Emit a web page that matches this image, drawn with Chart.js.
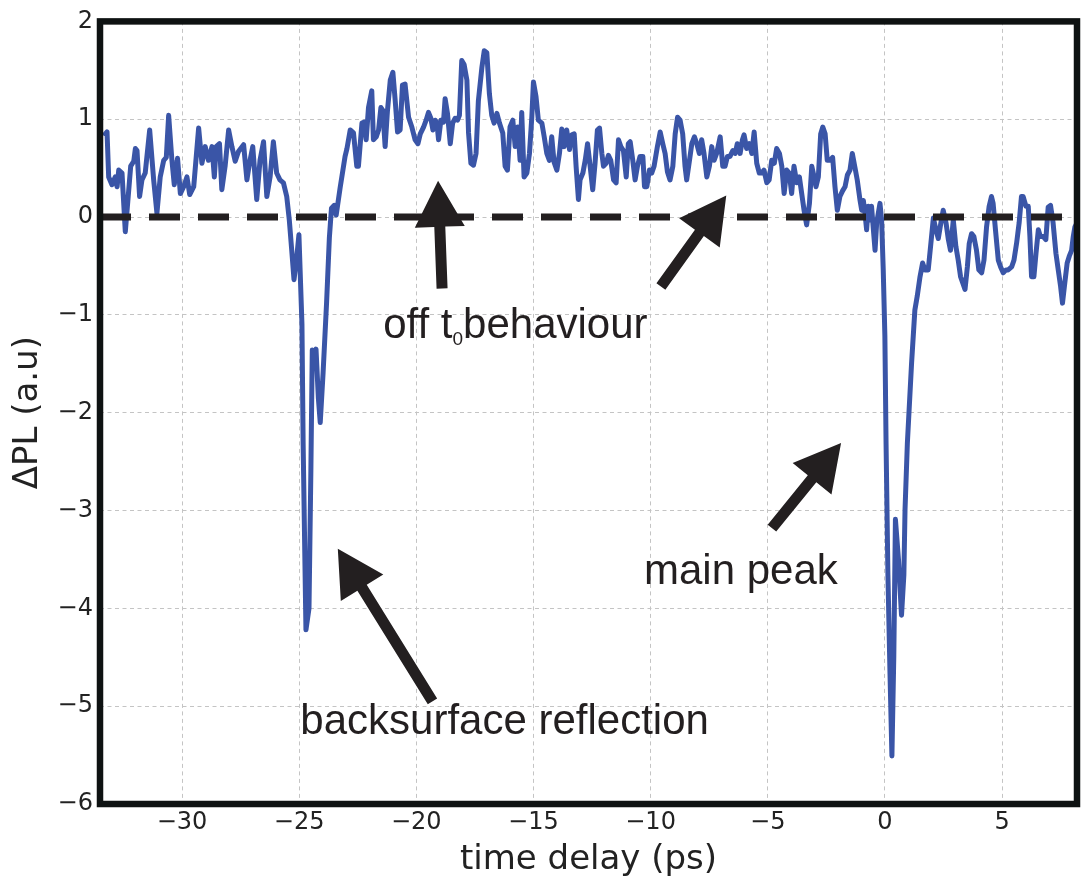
<!DOCTYPE html>
<html>
<head>
<meta charset="utf-8">
<script src="https://cdn.jsdelivr.net/npm/chart.js@4.4.1/dist/chart.umd.min.js"></script>
<style>
  html, body { margin: 0; padding: 0; background: #fff; }
  #wrap { width: 1081px; height: 881px; }
</style>
</head>
<body>
<div id="wrap"><canvas id="plChart" width="1081" height="881"></canvas></div>
<script>
// time delay (ps) and ΔPL (a.u)
const timeDelay = [
  -33.27, -33.20, -33.13, -32.99, -32.85, -32.77, -32.70, -32.56, -32.42, -32.19,
  -32.06, -31.99, -31.92, -31.81, -31.71, -31.57, -31.38, -31.21, -31.07, -30.93,
  -30.78, -30.67, -30.57, -30.43, -30.33, -30.19, -30.07, -29.93, -29.79, -29.67,
  -29.50, -29.29, -29.15, -29.01, -28.87, -28.72, -28.62, -28.54, -28.40, -28.30,
  -28.16, -28.01, -27.87, -27.73, -27.59, -27.37, -27.23, -27.12, -26.98, -26.81,
  -26.67, -26.52, -26.38, -26.24, -26.10, -25.96, -25.82, -25.67, -25.53, -25.42,
  -25.32, -25.22, -25.11, -25.01, -24.88, -24.83, -24.71, -24.58, -24.50, -24.44,
  -24.36, -24.28, -24.18, -24.10, -23.98, -23.83, -23.71, -23.62, -23.50, -23.42,
  -23.25, -23.04, -22.96, -22.82, -22.68, -22.54, -22.47, -22.32, -22.22, -22.14,
  -22.04, -21.90, -21.83, -21.71, -21.61, -21.51, -21.43, -21.33, -21.23, -21.11,
  -21.00, -20.90, -20.80, -20.69, -20.59, -20.48, -20.33, -20.19, -20.05, -19.93,
  -19.83, -19.69, -19.58, -19.48, -19.38, -19.29, -19.19, -19.12, -19.05, -18.95,
  -18.84, -18.77, -18.67, -18.55, -18.45, -18.34, -18.24, -18.16, -18.06, -17.96,
  -17.84, -17.77, -17.67, -17.56, -17.45, -17.35, -17.20, -17.10, -16.99, -16.88,
  -16.78, -16.68, -16.56, -16.45, -16.31, -16.21, -16.11, -16.00, -15.88, -15.78,
  -15.67, -15.57, -15.50, -15.40, -15.28, -15.17, -15.07, -15.00, -14.89, -14.79,
  -14.64, -14.54, -14.43, -14.32, -14.22, -14.12, -14.00, -13.89, -13.79, -13.69,
  -13.58, -13.46, -13.36, -13.26, -13.18, -13.08, -13.01, -12.89, -12.79, -12.69,
  -12.58, -12.47, -12.37, -12.27, -12.18, -12.08, -12.01, -11.90, -11.80, -11.70,
  -11.58, -11.47, -11.37, -11.27, -11.16, -11.04, -10.95, -10.87, -10.76, -10.66,
  -10.56, -10.45, -10.33, -10.26, -10.16, -10.05, -9.95, -9.85, -9.71, -9.59,
  -9.48, -9.38, -9.28, -9.17, -9.05, -8.95, -8.85, -8.74, -8.63, -8.53,
  -8.46, -8.34, -8.24, -8.13, -8.03, -7.92, -7.82, -7.72, -7.60, -7.49,
  -7.39, -7.29, -7.18, -7.03, -6.92, -6.82, -6.72, -6.61, -6.49, -6.39,
  -6.30, -6.18, -6.08, -6.01, -5.90, -5.78, -5.68, -5.58, -5.47, -5.36,
  -5.26, -5.16, -5.04, -4.94, -4.83, -4.72, -4.62, -4.50, -4.40, -4.30,
  -4.19, -4.08, -3.98, -3.88, -3.76, -3.65, -3.55, -3.45, -3.34, -3.22,
  -3.12, -3.02, -2.94, -2.84, -2.74, -2.65, -2.55, -2.46, -2.34, -2.23,
  -2.13, -2.03, -1.92, -1.80, -1.70, -1.60, -1.49, -1.39, -1.28, -1.18,
  -1.06, -0.99, -0.92, -0.85, -0.78, -0.71, -0.64, -0.57, -0.49, -0.42,
  -0.35, -0.28, -0.21, -0.14, -0.07, 0.00, 0.05, 0.13, 0.22, 0.30,
  0.38, 0.45, 0.58, 0.71, 0.81, 0.86, 0.96, 1.05, 1.14, 1.28,
  1.38, 1.50, 1.61, 1.71, 1.85, 1.95, 2.07, 2.18, 2.28, 2.39,
  2.49, 2.61, 2.71, 2.80, 2.92, 3.03, 3.13, 3.23, 3.32, 3.42,
  3.52, 3.60, 3.70, 3.80, 3.91, 4.01, 4.13, 4.23, 4.34, 4.45,
  4.55, 4.62, 4.72, 4.84, 4.94, 5.05, 5.17, 5.26, 5.41, 5.51,
  5.62, 5.73, 5.83, 5.90, 6.02, 6.12, 6.19, 6.26, 6.36, 6.45,
  6.55, 6.64, 6.76, 6.87, 6.97, 7.07, 7.18, 7.30, 7.40, 7.50,
  7.58, 7.68, 7.78, 7.87, 7.97, 8.04, 8.11, 8.20
];
const deltaPL = [
  0.85, 0.87, 0.41, 0.33, 0.41, 0.31, 0.48, 0.45, -0.15, 0.52,
  0.57, 0.70, 0.68, 0.21, 0.38, 0.45, 0.89, 0.38, 0.04, 0.41,
  0.58, 0.61, 1.04, 0.58, 0.33, 0.60, 0.24, 0.31, 0.41, 0.23,
  0.31, 0.91, 0.55, 0.72, 0.58, 0.72, 0.41, 0.72, 0.75, 0.28,
  0.52, 0.89, 0.72, 0.57, 0.67, 0.74, 0.38, 0.55, 0.72, 0.18,
  0.58, 0.77, 0.21, 0.41, 0.77, 0.45, 0.38, 0.35, 0.21, -0.03,
  -0.33, -0.64, -0.43, -0.18, -1.10, -2.31, -4.22, -4.00, -2.60, -1.36,
  -1.45, -1.35, -1.85, -2.10, -1.60, -0.88, -0.21, 0.09, 0.12, 0.02,
  0.30, 0.62, 0.70, 0.89, 0.86, 0.52, 0.52, 0.96, 0.97, 0.79,
  1.12, 1.29, 0.79, 0.82, 0.89, 1.12, 1.09, 0.72, 1.09, 1.40,
  1.48, 1.19, 0.87, 0.89, 1.35, 1.36, 1.02, 0.92, 0.79, 0.75,
  0.85, 0.92, 0.99, 1.07, 1.01, 0.89, 0.99, 0.96, 0.79, 0.99,
  0.97, 1.21, 1.06, 0.75, 0.96, 1.01, 0.99, 1.04, 1.60, 1.56,
  1.40, 0.86, 0.55, 0.53, 0.65, 1.19, 1.53, 1.70, 1.68, 1.26,
  1.04, 0.96, 1.06, 0.96, 0.86, 0.52, 0.48, 0.92, 0.99, 0.72,
  0.92, 0.58, 1.07, 0.41, 0.45, 0.65, 1.02, 1.38, 1.23, 0.99,
  0.96, 0.82, 0.65, 0.58, 0.82, 0.56, 0.48, 0.65, 0.90, 0.72,
  0.89, 0.69, 0.84, 0.85, 0.52, 0.18, 0.38, 0.45, 0.58, 0.75,
  0.52, 0.28, 0.55, 0.89, 0.91, 0.65, 0.52, 0.55, 0.63, 0.58,
  0.38, 0.35, 0.79, 0.72, 0.68, 0.41, 0.75, 0.77, 0.58, 0.38,
  0.52, 0.62, 0.62, 0.31, 0.31, 0.48, 0.45, 0.52, 0.72, 0.87,
  0.75, 0.65, 0.46, 0.38, 0.52, 0.85, 1.02, 0.99, 0.85, 0.52,
  0.38, 0.58, 0.75, 0.82, 0.75, 0.65, 0.79, 0.65, 0.41, 0.52,
  0.72, 0.58, 0.65, 0.82, 0.52, 0.52, 0.62, 0.62, 0.68, 0.65,
  0.75, 0.65, 0.79, 0.84, 0.70, 0.75, 0.65, 0.87, 0.55, 0.45,
  0.45, 0.48, 0.35, 0.38, 0.58, 0.55, 0.70, 0.65, 0.52, 0.24,
  0.48, 0.45, 0.24, 0.52, 0.35, 0.41, 0.24, 0.07, -0.08, 0.14,
  0.52, 0.41, 0.31, 0.41, 0.85, 0.92, 0.85, 0.58, 0.58, 0.61,
  0.31, 0.07, 0.21, 0.27, 0.31, 0.43, 0.48, 0.65, 0.51, 0.38,
  0.17, 0.07, 0.17, 0.04, -0.13, 0.11, -0.03, 0.11, -0.13, -0.34,
  -0.06, 0.04, 0.14, -0.03, -0.54, -1.22, -2.31, -3.66, -4.68, -5.51,
  -4.50, -3.09, -3.50, -4.07, -3.66, -2.99, -2.31, -1.90, -1.49, -0.95,
  -0.81, -0.61, -0.47, -0.54, -0.54, -0.30, -0.01, -0.13, -0.22, -0.06,
  0.07, -0.06, -0.23, -0.34, -0.03, -0.30, -0.44, -0.61, -0.67, -0.74,
  -0.51, -0.27, -0.17, -0.20, -0.34, -0.54, -0.57, -0.44, -0.10, 0.11,
  0.21, 0.14, -0.13, -0.44, -0.51, -0.57, -0.54, -0.54, -0.51, -0.44,
  -0.27, -0.06, 0.21, 0.21, 0.11, 0.11, -0.20, -0.61, -0.61, -0.37,
  -0.13, -0.20, -0.20, -0.23, 0.10, 0.12, -0.06, -0.37, -0.54, -0.71,
  -0.88, -0.67, -0.47, -0.40, -0.34, -0.20, -0.10, -0.06
];

// the dashed reference line at ΔPL = 0
const zeroLineX = [-33.5, 8.2];
const zeroLineY = [0, 0];

// tick labels
const xTickValues = [-30, -25, -20, -15, -10, -5, 0, 5];
const yTickValues = [-6, -5, -4, -3, -2, -1, 0, 1, 2];

const X_MIN = -33.5, X_MAX = 8.2, Y_MIN = -6, Y_MAX = 2;

// annotations, placed in data units
const notes = [
  { parts: [["off t", 42, 0], ["0", 19, 7], ["behaviour", 42, 0]], x: -21.41, y: -1.24 },
  { parts: [["main peak", 42, 0]], x: -10.28, y: -3.75 },
  { parts: [["backsurface reflection", 42, 0]], x: -24.95, y: -5.28 }
];
const arrows = [
  { from: [-18.90, -0.73], to: [-19.07, 0.37] },
  { from: [-9.56, -0.71], to: [-6.77, 0.22] },
  { from: [-4.82, -3.18], to: [-1.87, -2.31] },
  { from: [-19.31, -4.95], to: [-23.35, -3.39] }
];

const ink = "#231f20";

function toPoints(xs, ys) {
  return xs.map((x, i) => ({ x: x, y: ys[i] }));
}

function minusLabel(v) {
  return v < 0 ? "\u2212" + Math.abs(v) : String(v);
}

function drawArrow(ctx, x1, y1, x2, y2) {
  const dx = x2 - x1, dy = y2 - y1;
  const len = Math.hypot(dx, dy);
  const ux = dx / len, uy = dy / len;
  const nx = -uy, ny = ux;
  const headLen = 46, headHalf = 25, shaftHalf = 5.5;
  const bx = x2 - ux * headLen, by = y2 - uy * headLen;
  ctx.beginPath();
  ctx.moveTo(x1 + nx * shaftHalf, y1 + ny * shaftHalf);
  ctx.lineTo(bx + nx * shaftHalf, by + ny * shaftHalf);
  ctx.lineTo(bx + nx * headHalf, by + ny * headHalf);
  ctx.lineTo(x2, y2);
  ctx.lineTo(bx - nx * headHalf, by - ny * headHalf);
  ctx.lineTo(bx - nx * shaftHalf, by - ny * shaftHalf);
  ctx.lineTo(x1 - nx * shaftHalf, y1 - ny * shaftHalf);
  ctx.closePath();
  ctx.fill();
}

const framePlugin = {
  id: "frameAndNotes",
  afterDatasetsDraw(chart) {
    const { ctx, chartArea: a, scales } = chart;
    ctx.save();
    // arrows
    ctx.fillStyle = ink;
    arrows.forEach(ar => {
      drawArrow(ctx,
        scales.x.getPixelForValue(ar.from[0]), scales.y.getPixelForValue(ar.from[1]),
        scales.x.getPixelForValue(ar.to[0]), scales.y.getPixelForValue(ar.to[1]));
    });
    // text
    ctx.textBaseline = "alphabetic";
    ctx.textAlign = "left";
    notes.forEach(n => {
      let px = scales.x.getPixelForValue(n.x);
      const py = scales.y.getPixelForValue(n.y);
      n.parts.forEach(p => {
        ctx.font = p[1] + 'px "Liberation Sans", Arial, sans-serif';
        ctx.fillText(p[0], px, py + p[2]);
        px += ctx.measureText(p[0]).width;
      });
    });
    // thick box round the plot
    ctx.strokeStyle = "#0e1212";
    ctx.lineWidth = 6.5;
    ctx.strokeRect(a.left, a.top, a.right - a.left, a.bottom - a.top);
    ctx.restore();
  }
};

const tickFont = { family: "'DejaVu Sans', sans-serif", size: 24 };
const titleFont = { family: "'DejaVu Sans', sans-serif", size: 34 };

new Chart(document.getElementById("plChart").getContext("2d"), {
  type: "line",
  data: {
    datasets: [
      {
        label: "zero",
        data: toPoints(zeroLineX, zeroLineY),
        borderColor: ink,
        borderWidth: 7,
        borderDash: [31, 18],
        pointRadius: 0,
        order: 0
      },
      {
        label: "ΔPL",
        data: toPoints(timeDelay, deltaPL),
        borderColor: "#3a55a7",
        borderWidth: 5,
        borderJoinStyle: "round",
        borderCapStyle: "round",
        pointRadius: 0,
        tension: 0,
        order: 1
      }
    ]
  },
  options: {
    responsive: false,
    animation: false,
    devicePixelRatio: 1,
    layout: { padding: { left: 0, right: 4, top: 14, bottom: 0 } },
    plugins: {
      legend: { display: false },
      tooltip: { enabled: false }
    },
    scales: {
      x: {
        type: "linear",
        min: X_MIN,
        max: X_MAX,
        afterBuildTicks: s => { s.ticks = xTickValues.map(v => ({ value: v })); },
        afterFit: s => { s.height = 77; },
        ticks: { font: tickFont, color: "#222", padding: 4, maxRotation: 0, callback: v => minusLabel(v) },
        grid: { color: "#c4c4c4", lineWidth: 1, drawTicks: false },
        border: { display: false, dash: [4, 3.5] },
        title: { display: true, text: "time delay (ps)", font: titleFont, color: "#222", padding: { top: 0, bottom: 0 } }
      },
      y: {
        type: "linear",
        min: Y_MIN,
        max: Y_MAX,
        afterBuildTicks: s => { s.ticks = yTickValues.map(v => ({ value: v })); },
        afterFit: s => { s.width = 100; },
        ticks: { font: tickFont, color: "#222", padding: 7, callback: v => minusLabel(v) },
        grid: { color: "#c4c4c4", lineWidth: 1, drawTicks: false },
        border: { display: false, dash: [4, 3.5] },
        title: { display: true, text: "ΔPL (a.u)", font: titleFont, color: "#222", padding: { top: 8, bottom: 0 } }
      }
    }
  },
  plugins: [framePlugin]
});
</script>
</body>
</html>
